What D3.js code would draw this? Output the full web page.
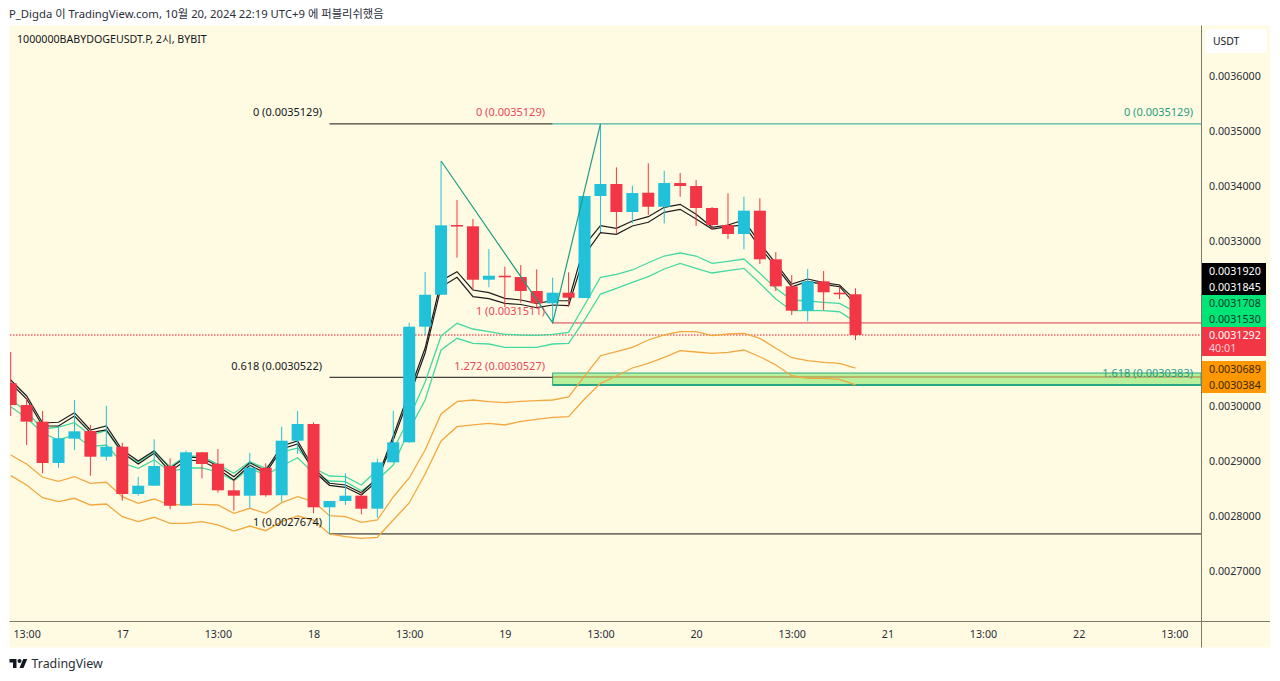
<!DOCTYPE html>
<html><head><meta charset="utf-8">
<script src="https://cdn.jsdelivr.net/npm/d3@7"></script>
<style>
html,body{margin:0;padding:0;background:#fff}
svg{display:block}
text{font-family:"Noto Sans","Noto Sans CJK KR",sans-serif;font-size:10.7px;fill:#131722}
</style></head><body>
<svg id="c" width="1280" height="681"></svg>
<script>
// all prices in units of 0.0000001
const open=[30413,30018,29715,28964,29406,29545,29078,29260,28400,28551,28909,28187,29158,28951,28467,28369,28878,28377,29369,29673,28158,28273,28369,28133,28976,29340,31442,32023,33291,33267,32296,32369,32345,32091,31867,32060,31963,33818,34036,33527,33878,33623,34054,34000,33600,33291,33127,33551,32667,32176,31733,32267,32060,32031];
const high=[30982,30145,29909,29618,30109,29655,30005,29333,28715,29395,29049,29187,29164,29218,28655,29151,28958,29624,29909,29704,28273,28776,28442,29042,29915,31514,32436,34454,33745,33400,32854,32533,32563,32485,32333,32431,33818,35129,34340,34005,34412,34278,34236,34109,33618,33867,33805,33776,32800,32382,32491,32454,32169,32140];
const low=[29818,29291,28776,28878,29200,28733,29006,28278,28369,28545,28122,28182,28686,28424,28097,28140,28351,28260,29127,28049,27674,28200,28031,27969,28976,29327,31291,32023,32696,32109,32158,31800,31878,31782,31511,31805,31963,33163,33140,33321,33472,33321,33805,33272,33212,33036,32849,32582,32091,31654,31540,31745,31945,31200];
const close=[30018,29715,28964,29413,29540,29078,29260,28400,28551,28909,28187,29158,28946,28467,28369,28878,28377,29369,29673,28158,28273,28369,28133,28976,29340,31442,32023,33285,33263,32296,32369,32340,32091,31867,32060,31969,33818,34036,33527,33872,33623,34054,34000,33600,33291,33127,33551,32667,32176,31733,32267,32067,32031,31292];
const blackUpper=[30473,30182,29691,29704,29878,29564,29636,29200,29000,29187,28867,29073,29055,28909,28715,28969,28824,29273,29364,28873,28595,28564,28424,28691,29455,30255,31054,32278,32442,32109,32060,31958,31927,31867,31914,31914,32927,33278,33231,33363,33442,33612,33667,33485,33249,33291,33381,32958,32594,32218,32309,32242,32200,31920];
const blackLower=[30418,30127,29636,29636,29818,29515,29564,29151,28946,29140,28806,29018,29000,28855,28655,28922,28776,29218,29309,28818,28558,28522,28382,28636,29382,30164,30964,32163,32340,31987,31951,31867,31845,31787,31836,31824,32745,33154,33122,33272,33340,33522,33576,33400,33218,33260,33291,32885,32533,32169,32267,32213,32169,31845];
const greenUpper=[30122,29896,29582,29618,29696,29473,29551,29140,28976,29169,28896,29091,29082,28940,28776,28987,28867,29164,29236,28873,28727,28715,28564,28836,29200,29782,30436,31273,31504,31400,31351,31304,31291,31285,31304,31340,31836,32340,32394,32473,32605,32727,32782,32727,32594,32631,32673,32413,32140,31927,31909,31885,31867,31708];
const greenLower=[29987,29782,29509,29382,29473,29260,29291,28964,28867,29018,28806,28873,28873,28800,28642,28867,28746,28909,29060,28776,28636,28624,28460,28655,28927,29564,30109,31018,31231,31140,31127,31067,31067,31067,31127,31140,31564,32036,32140,32249,32351,32491,32594,32503,32418,32460,32503,32231,31945,31733,31733,31733,31714,31530];
const orangeUpper=[29109,28946,28704,28631,28715,28595,28613,28351,28231,28309,28200,28213,28213,28200,28049,28140,28049,28242,28351,28260,28006,27987,27886,27927,28346,28691,29200,29855,30078,30109,30078,30060,30085,30096,30109,30164,30545,30914,30987,31067,31200,31291,31351,31351,31278,31309,31322,31231,31049,30878,30824,30794,30776,30689];
const orangeLower=[28733,28564,28333,28260,28322,28200,28218,27987,27897,27977,27867,27867,27897,27837,27727,27818,27733,27897,28000,27927,27674,27624,27595,27613,27927,28237,28764,29364,29624,29655,29685,29655,29722,29758,29795,29805,30127,30413,30545,30691,30776,30885,31005,30982,30958,30976,31018,30896,30745,30551,30504,30504,30485,30384];
const priceTicks=[36000,35000,34000,33000,30000,29000,28000,27000];
const timeTickIndex=[1,7,13,19,25,31,37,43,49,55,61,67,73];
const timeTickLabels=["13:00","17","13:00","18","13:00","19","13:00","20","13:00","21","13:00","22","13:00"];
const zigzagIndex=[27,34,37];
const zigzagPrice=[34454,31511,35129];
const boxTop=30600, boxBottom=30383;
const lastPrice=31292;
const startA=20, startB=34;
const blackLevels=[["0 (0.0035129)",35129],["0.618 (0.0030522)",30522],["1 (0.0027674)",27674]];
const redLevels=[["0 (0.0035129)",35129],["1 (0.0031511)",31511],["1.272 (0.0030527)",30527]];
const tealLevels=[["0 (0.0035129)",35129],["1.618 (0.0030383)",30383]];
const sideBoxes=[
 {t:"0.0031920",bg:"#000000",fg:"#ffffff"},
 {t:"0.0031845",bg:"#000000",fg:"#ffffff"},
 {t:"0.0031708",bg:"#00e676",fg:"#0b3d2a"},
 {t:"0.0031530",bg:"#00e676",fg:"#0b3d2a"},
 {t:"0.0031292",bg:"#f23645",fg:"#ffffff"},
 {t:"0.0030689",bg:"#ff9800",fg:"#3a2a05"},
 {t:"0.0030384",bg:"#ff9800",fg:"#3a2a05"}];

const UP="#22c1da", DOWN="#f23645", CREAM="#fffbe3", AXIS="#7d7b6c", TEAL="#1f9c82", RED="#e8485a";
const PL=10,PR=1201,PT=26,PB=621;
const svg=d3.select("#c");
const x=d3.scaleLinear().domain([0,73]).range([10.7,1174.3]);
const y=d3.scaleLinear().domain([27000,36000]).range([571,76]);
const n=open.length, idx=d3.range(n);

// panels
svg.append("rect").attr("x",9.5).attr("y",25.5).attr("width",1260.5).attr("height",622).attr("fill",CREAM);
svg.append("text").attr("x",9).attr("y",18).style("font-size","11.3px").style("fill","#2a2e39").text("P_Digda 이 TradingView.com, 10월 20, 2024 22:19 UTC+9 에 퍼블리쉬했음");
svg.append("text").attr("x",17).attr("y",43).style("font-size","10.65px").text("1000000BABYDOGEUSDT.P, 2시, BYBIT");

svg.append("defs").append("clipPath").attr("id","plot").append("rect").attr("x",PL).attr("y",PT).attr("width",PR-PL).attr("height",PB-PT);
const g=svg.append("g").attr("clip-path","url(#plot)");

// box
g.append("rect").attr("x",x(startB)).attr("y",y(boxTop)).attr("width",PR-x(startB)).attr("height",y(boxBottom)-y(boxTop))
 .attr("fill","#b8f09c").attr("stroke","#2fa886").attr("stroke-width",1);
g.append("line").attr("x1",x(startB)).attr("x2",PR).attr("y1",y(boxBottom)).attr("y2",y(boxBottom)).attr("stroke","#2aa583").attr("stroke-width",2);

// last price dotted
g.append("line").attr("x1",PL).attr("x2",PR).attr("y1",Math.round(y(lastPrice))).attr("y2",Math.round(y(lastPrice)))
 .attr("stroke","#f4606c").attr("stroke-width",1.4).attr("stroke-dasharray","1.5 1.5");

// fib lines
function level(from,to,v,color,w){g.append("line").attr("x1",from).attr("x2",to).attr("y1",y(v)).attr("y2",y(v)).attr("stroke",color).attr("stroke-width",w||1);}
level(x(startA),x(startB),35129,"#111");
level(x(startA),x(startB),30522,"#111");
level(x(startA),PR,27674,"#111");
level(x(startB),PR,30527,"#b5763a");
level(x(startB),PR,31511,"#ea8b8b",1.7);
level(x(startB),PR,35129,"#4ab5a3",1.2);

// bands
const line=a=>d3.line().x((d,i)=>x(i)).y(d=>y(d))(a);
[[orangeUpper,"#f2a83f",1.3],[orangeLower,"#f2a83f",1.3],[greenUpper,"#43d9a0",1.3],[greenLower,"#43d9a0",1.3],[blackUpper,"#1c1c1c",1.2],[blackLower,"#1c1c1c",1.2]]
 .forEach(([a,c,w])=>g.append("path").attr("d",line(a)).attr("fill","none").attr("stroke",c).attr("stroke-width",w));

// candles
const col=i=>close[i]>=open[i]?UP:DOWN;
const cg=g.append("g").selectAll("g").data(idx).join("g");
cg.append("line").attr("x1",i=>x(i)).attr("x2",i=>x(i)).attr("y1",i=>y(high[i])).attr("y2",i=>y(low[i])).attr("stroke",col).attr("stroke-width",1);
cg.append("rect").attr("x",i=>x(i)-6).attr("width",12)
 .attr("y",i=>y(Math.max(open[i],close[i])))
 .attr("height",i=>Math.max(1.5,Math.abs(y(open[i])-y(close[i]))))
 .attr("fill",col);

// zigzag
g.append("path").attr("d",d3.line().x(d=>x(d[0])).y(d=>y(d[1]))(d3.zip(zigzagIndex,zigzagPrice)))
 .attr("fill","none").attr("stroke",TEAL).attr("stroke-width",1.2);

// fib labels
function labels(list,xr,color){svg.selectAll(null).data(list).join("text").attr("x",xr).attr("y",d=>y(d[1])-7.5).attr("text-anchor","end")
  .style("fill",color).style("font-size","11px").text(d=>d[0]);}
labels(blackLevels,322,"#131722");
labels(redLevels,545,RED);
labels(tealLevels,1193,TEAL);

// axes
const ya=svg.append("g").attr("transform",`translate(${PR},0)`).call(d3.axisRight(y).tickValues(priceTicks).tickSize(0).tickPadding(8).tickFormat(v=>(v/1e7).toFixed(7)));
ya.select(".domain").remove();
const xa=svg.append("g").attr("transform",`translate(0,${PB})`).call(d3.axisBottom(x).tickValues(timeTickIndex).tickSize(0).tickPadding(9).tickFormat((d,i)=>timeTickLabels[i]));
xa.select(".domain").remove();
svg.selectAll(".tick text").style("font-family",'"Noto Sans",sans-serif').style("font-size","10.7px").style("fill","#2a2e39");
xa.selectAll(".tick text").attr("dy",".71em");
svg.append("line").attr("x1",PR+.5).attr("x2",PR+.5).attr("y1",25.5).attr("y2",647.5).attr("stroke",AXIS);
svg.append("line").attr("x1",9.5).attr("x2",1270).attr("y1",PB+.5).attr("y2",PB+.5).attr("stroke",AXIS);

// USDT button
svg.append("rect").attr("x",1205).attr("y",29).attr("width",62).attr("height",24).attr("rx",4).attr("fill","#fff");
svg.append("text").attr("x",1213).attr("y",45).style("font-size","10.4px").text("USDT");

// side price boxes
const rows=[263,279,295,311,327,361,377];
const hs=[16,16,16,16,29,16,16];
svg.selectAll(null).data(sideBoxes).join("rect").attr("x",PR+1).attr("width",64)
 .attr("y",(d,i)=>rows[i]).attr("height",(d,i)=>hs[i]).attr("fill",d=>d.bg);
svg.selectAll(null).data(sideBoxes).join("text").attr("x",1209).attr("y",(d,i)=>rows[i]+12)
 .style("fill",d=>d.fg).text(d=>d.t);
svg.append("text").attr("x",1209).attr("y",352).style("fill","#ffd0d4").text("40:01");

// footer logo
const logo=svg.append("g").attr("transform","translate(9.5,657) scale(.5)").attr("fill","#131722");
logo.append("path").attr("d","M14 22H7V11H0V4h14v18zM28 22h-8l7.5-18h8L28 22z");
logo.append("circle").attr("cx",20).attr("cy",8).attr("r",4);
svg.append("text").attr("x",31.5).attr("y",668).style("font-size","12.4px").style("fill","#2a2e39").text("TradingView");
</script>
</body></html>
